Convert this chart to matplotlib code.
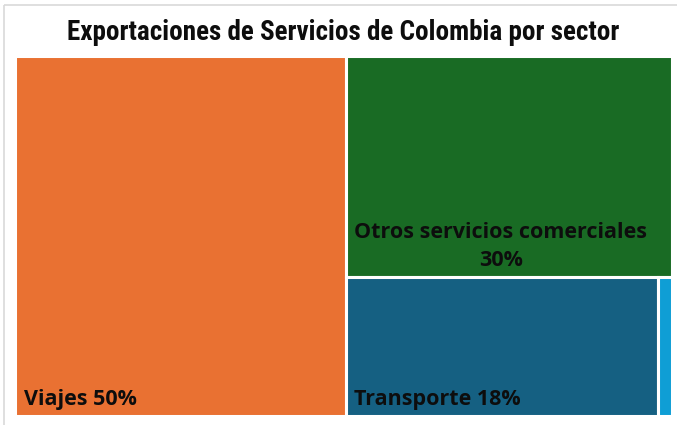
import matplotlib
matplotlib.use("Agg")
import matplotlib.pyplot as plt
from matplotlib.patches import Rectangle
from matplotlib import font_manager

categories = ["Viajes", "Otros servicios comerciales", "Transporte", "Otros"]
values = [50.4, 30.5, 18.3, 0.8]
labels = ["Viajes 50%", "Otros servicios comerciales\n30%", "Transporte 18%", ""]
colors = ["#E97132", "#196B24", "#156082", "#0F9ED5"]
title = "Exportaciones de Servicios de Colombia por sector"

names = {f.name for f in font_manager.fontManager.ttflist}
title_font = [f for f in ["Roboto Condensed", "Liberation Sans Narrow", "Open Sans", "DejaVu Sans"] if f in names]
label_font = [f for f in ["Open Sans", "Noto Sans", "DejaVu Sans"] if f in names]

W, H = 677, 425
fig = plt.figure(figsize=(W / 100, H / 100), dpi=100)

# light border around the chart area
bg = fig.add_axes([0, 0, 1, 1])
bg.set_xlim(0, W); bg.set_ylim(H, 0); bg.axis("off")
bg.add_patch(Rectangle((3.5, 5), W, H, fill=False, edgecolor="#D9D9D9", lw=1.2))

# treemap area in pixels
x0, x1, y0, y1 = 15.5, 672.0, 55.5, 416.0
ax = fig.add_axes([x0 / W, 1 - y1 / H, (x1 - x0) / W, (y1 - y0) / H])
aw, ah = x1 - x0, y1 - y0
ax.set_xlim(0, aw); ax.set_ylim(ah, 0); ax.axis("off")

# simple strip layout: each item takes a strip along the longer side
rects = []
rx, ry, rw, rh = 0.0, 0.0, aw, ah
remaining = sum(values)
for v in values:
    frac = v / remaining if remaining > 0 else 1
    if rw >= rh:
        w = rw * frac
        rects.append((rx, ry, w, rh))
        rx += w; rw -= w
    else:
        h = rh * frac
        rects.append((rx, ry, rw, h))
        ry += h; rh -= h
    remaining -= v

for (rx, ry, rw, rh), c, lab in zip(rects, colors, labels):
    ax.add_patch(Rectangle((rx, ry), rw, rh, facecolor=c, edgecolor="white", lw=2.2))
    if lab:
        ax.text(rx + 8, ry + rh - 6, lab, ha="left", va="bottom", multialignment="center",
                fontsize=15.5, fontweight="bold", family=label_font, color="#0D0D0D",
                linespacing=1.45)

fig.text(343 / W, 1 - 32.5 / H, title, ha="center", va="center", fontsize=19.5,
         fontweight="bold", family=title_font, color="#0D0D0D")

fig.savefig("out.png", dpi=100)
